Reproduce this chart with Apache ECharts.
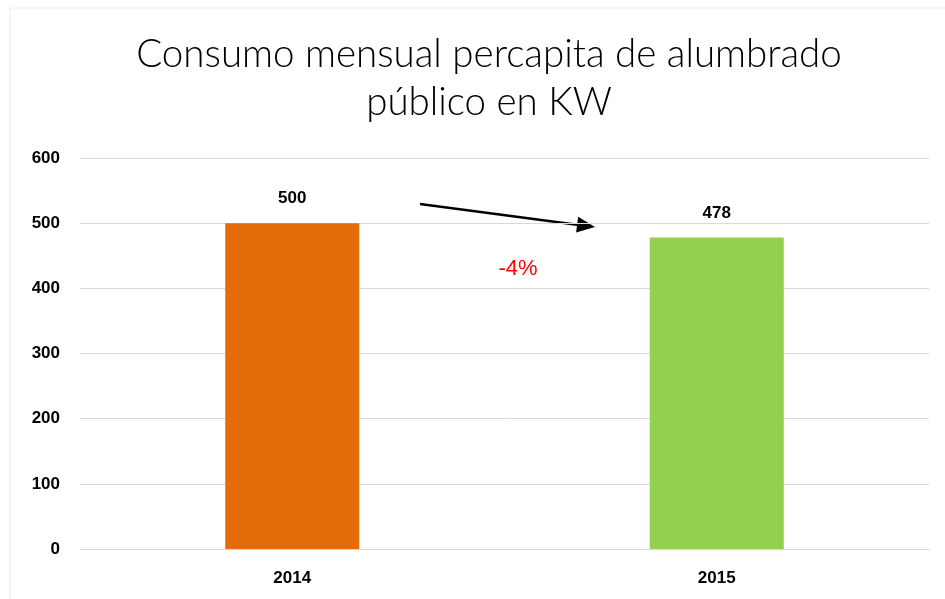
<!DOCTYPE html>
<html>
<head>
<meta charset="utf-8">
<script src="https://cdn.jsdelivr.net/npm/echarts@6/dist/echarts.min.js"></script>
<style>
  html, body { margin: 0; padding: 0; background: #fff; }
  #chart { width: 945px; height: 599px; }
</style>
</head>
<body>
<div id="chart"></div>
<script>
const years = ['2014', '2015']
const consumo = [500, 478]
const barColors = ['#E46C0A', '#92D050']
const changeLabel = '-4%'

let chart = echarts.init(document.getElementById('chart'))

// flecha entre las dos barras
let x1 = 420, y1 = 204, x2 = 595, y2 = 227
let ang = Math.atan2(y2 - y1, x2 - x1)
let hl = 18, hw = 8
let bx = x2 - hl * Math.cos(ang), by = y2 - hl * Math.sin(ang)
let head = [
    [x2, y2],
    [bx + hw * Math.sin(ang), by - hw * Math.cos(ang)],
    [bx - hw * Math.sin(ang), by + hw * Math.cos(ang)]
]

let option = {
    backgroundColor: '#fff',
    title: {
        text: 'Consumo mensual percapita de alumbrado\npúblico en KW',
        left: 484,
        textAlign: 'center',
        top: 26,
        textStyle: {
            fontFamily: 'Lato',
            fontWeight: 300,
            fontSize: 38.5,
            lineHeight: 48,
            color: '#000'
        }
    },
    grid: {
        left: 80,
        right: 16,
        top: 158,
        bottom: 50
    },
    xAxis: {
        type: 'category',
        data: years,
        axisLine: { show: true, lineStyle: { color: '#d9d9d9', width: 1 } },
        axisTick: { show: false },
        axisLabel: {
            margin: 21,
            fontFamily: 'Liberation Sans',
            fontWeight: 'bold',
            fontSize: 17,
            color: '#000'
        }
    },
    yAxis: {
        type: 'value',
        min: 0,
        max: 600,
        interval: 100,
        axisLine: { show: false },
        axisTick: { show: false },
        splitLine: { lineStyle: { color: '#d9d9d9', width: 1 } },
        axisLabel: {
            margin: 20,
            fontFamily: 'Liberation Sans',
            fontWeight: 'bold',
            fontSize: 17,
            color: '#000'
        }
    },
    series: [{
        type: 'bar',
        barWidth: 134,
        data: consumo.map((v, i) => ({
            value: v,
            itemStyle: { color: barColors[i] }
        })),
        label: {
            show: true,
            position: 'top',
            distance: 16,
            fontFamily: 'Liberation Sans',
            fontWeight: 'bold',
            fontSize: 17,
            color: '#000'
        }
    }],
    graphic: [
        {
            type: 'rect',
            shape: { x: 10, y: 8, width: 940, height: 600 },
            style: { fill: 'none', stroke: '#ececec', lineWidth: 1 },
            silent: true
        },
        {
            type: 'line',
            shape: { x1: x1, y1: y1, x2: bx, y2: by },
            style: { stroke: '#000', lineWidth: 2.5 }
        },
        {
            type: 'polygon',
            shape: { points: head },
            style: { fill: '#000' }
        },
        {
            type: 'text',
            x: 518,
            y: 269,
            style: {
                text: changeLabel,
                fill: '#ff0000',
                fontFamily: 'Liberation Sans',
                fontSize: 22,
                align: 'center',
                verticalAlign: 'middle'
            }
        }
    ]
}

chart.setOption(option)
</script>
</body>
</html>
